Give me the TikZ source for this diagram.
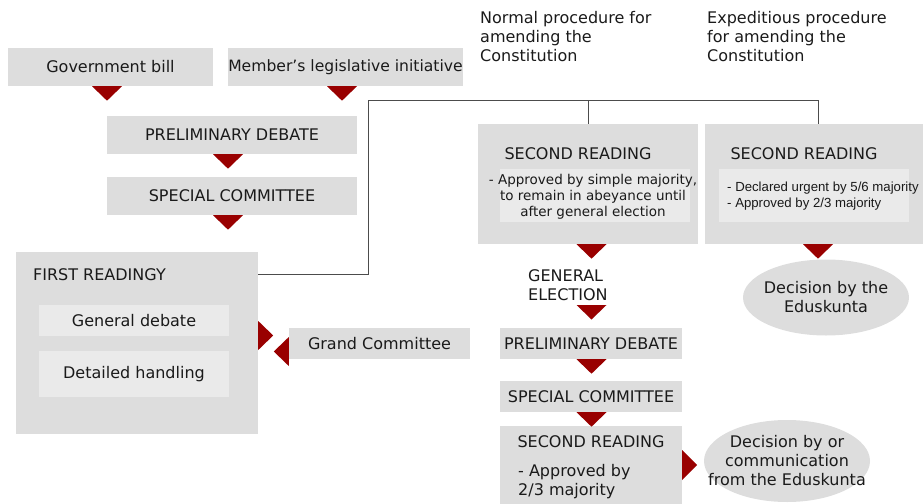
\documentclass[tikz,border=0pt]{standalone}
\usepackage{fontspec}
\setmainfont{DejaVu Sans}
\newfontfamily\arialfont{Liberation Sans}
\usetikzlibrary{positioning, calc, shapes.geometric}
\definecolor{boxgray}{HTML}{DDDDDD}
\definecolor{innergray}{HTML}{EAEAEA}
\definecolor{darkred}{HTML}{990000}
\definecolor{txtcol}{HTML}{1A1A1A}
\tikzstyle{blk}=[fill=boxgray, inner sep=0pt, text=txtcol, font=\fontsize{16}{19}\selectfont]
\tikzstyle{inner}=[fill=innergray, inner sep=0pt, text=txtcol, font=\fontsize{16}{19}\selectfont]
\tikzstyle{lbl}=[inner sep=0pt, text=txtcol, font=\fontsize{16}{19}\selectfont]
\tikzstyle{small}=[inner sep=0pt, text=txtcol, font=\fontsize{13.5}{16}\selectfont]
\tikzstyle{oval}=[ellipse, fill=boxgray, inner sep=0pt]
\tikzstyle{conn}=[draw=black!70, line width=1pt]
\newcommand{\tridown}[1]{\fill[darkred] (#1) +(-15,0) -- +(15,0) -- +(0,14.5) -- cycle;}

\begin{document}
\begin{tikzpicture}[x=1pt,y=-1pt]
    \useasboundingbox (0,0) rectangle (923,503);
    % headings
    \node [lbl, anchor=north west, align=left] (normal) at (480,11) {Normal procedure for\\amending the\\Constitution};
    \node [lbl, anchor=north west, align=left] (exped) at (707,11) {Expeditious procedure\\for amending the\\Constitution};

    % initiatives and first part
    \node [blk, minimum width=205, minimum height=38] (gov) at (110.5,67) {Government bill};
    \node [blk, minimum width=235, minimum height=38, font=\fontsize{15.6}{19}\selectfont] (mem) at (345.5,67) {Member’s legislative initiative};
    \node [blk, minimum width=250, minimum height=38] (pd1) at (232,135) {PRELIMINARY DEBATE};
    \node [blk, minimum width=250, minimum height=38] (sc1) at (232,196) {SPECIAL COMMITTEE};
    \node [blk, minimum width=242, minimum height=182] (first) at (137,343) {};
    \node [lbl, anchor=west] (firstlbl) at (33,275) {FIRST READINGY};
    \node [inner, minimum width=190, minimum height=31] (gdeb) at (134,320.5) {General debate};
    \node [inner, minimum width=190, minimum height=46] (dhand) at (134,374) {Detailed handling};
    \node [blk, minimum width=181, minimum height=31] (grand) at (379.5,343.5) {Grand Committee};

    % normal procedure
    \node [blk, minimum width=220, minimum height=120] (sr1) at (588,184) {};
    \node [lbl] (sr1lbl) at (578,154) {SECOND READING};
    \node [inner, minimum width=190, minimum height=53] (sr1box) at (595,195.5) {};
    \node [small, align=center] (sr1txt) at (593,197) {- Approved by simple majority,\\to remain in abeyance until\\after general election};
    \node [lbl, anchor=west, align=left] (gen) at (528,285) {GENERAL\\ELECTION};
    \node [blk, minimum width=182, minimum height=31] (pd2) at (591,343.5) {PRELIMINARY DEBATE};
    \node [blk, minimum width=182, minimum height=31] (sc2) at (591,396.5) {SPECIAL COMMITTEE};
    \node [blk, minimum width=182, minimum height=80] (sr3) at (591,466) {};
    \node [lbl] (sr3lbl) at (591,442) {SECOND READING};
    \node [lbl, anchor=west, align=left] (sr3txt) at (518,482) {- Approved by\\2/3 majority};
    \node [oval, minimum width=166, minimum height=82] (dec2) at (787,461) {};
    \node [lbl, align=center] (dec2txt) at (dec2) {Decision by or\\communication\\from the Eduskunta};

    % expeditious procedure
    \node [blk, minimum width=218, minimum height=120] (sr2) at (814,184) {};
    \node [lbl] (sr2lbl) at (804,154) {SECOND READING};
    \node [inner, minimum width=190, minimum height=53] (sr2box) at (814,195.5) {};
    \node [small, anchor=west, align=left, font=\arialfont\fontsize{13.2}{16}\selectfont] (sr2txt) at (727,196) {- Declared urgent by 5/6 majority\\- Approved by 2/3 majority};
    \node [oval, minimum width=166, minimum height=76] (dec1) at (826,297.5) {};
    \node [lbl, align=center] (dec1txt) at (dec1) {Decision by the\\Eduskunta};

    % connectors
    \coordinate (split) at (368,100);
    \coordinate (joint) at (368,274);
    \draw [conn] (first.east |- joint) -- (joint) -- (split) -- (split -| 818,0) -- ([xshift=4]sr2.north);
    \draw [conn] (split -| sr1.north) -- (sr1.north);

    % red arrow heads
    \tridown{[xshift=-3.5]gov.south}
    \tridown{[xshift=-3.5]mem.south}
    \tridown{[xshift=-4]pd1.south}
    \tridown{[xshift=-4]sc1.south}
    \tridown{[xshift=3.5]sr1.south}
    \tridown{[xshift=4]sr2.south}
    \tridown{591.5,305}
    \tridown{[xshift=0.5]pd2.south}
    \tridown{[xshift=0.5]sc2.south}
    \fill[darkred] ([yshift=22]first.east) -- ([yshift=-7]first.east) -- ([xshift=15,yshift=7.5]first.east) -- cycle;
    \fill[darkred] ([yshift=6.5]grand.west) -- ([yshift=-22.5]grand.west) -- ([xshift=-15,yshift=-8]grand.west) -- cycle;
    \fill[darkred] ([yshift=16]sr3.east) -- ([yshift=-14]sr3.east) -- ([xshift=15,yshift=1]sr3.east) -- cycle;
\end{tikzpicture}
\end{document}
